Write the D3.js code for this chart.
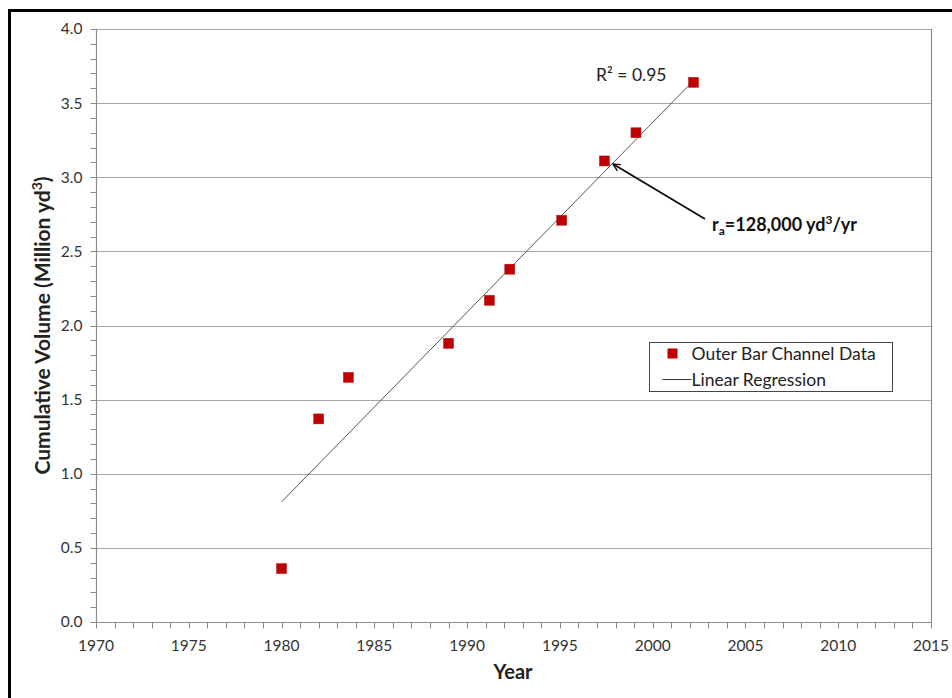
<!DOCTYPE html>
<html>
<head>
<meta charset="utf-8">
<script src="https://cdn.jsdelivr.net/npm/d3@7"></script>
<style>
  html, body { margin: 0; padding: 0; background: #fff; }
  svg { display: block; font-family: Lato, "Open Sans", sans-serif; }
</style>
</head>
<body>
<svg id="chart" width="952" height="698"></svg>
<script>
// Outer Bar Channel cumulative volume, million cubic yards
const years   = [1980, 1982, 1983.6, 1989, 1991.2, 1992.3, 1995.1, 1997.4, 1999.1, 2002.2];
const volumes = [0.36, 1.37, 1.65, 1.88, 2.17, 2.38, 2.71, 3.11, 3.30, 3.64];

// Linear regression: accumulation rate 128,000 yd3/yr = 0.128 million yd3/yr
const regStartYear = 1980;
const regEndYear   = 2002.2;
const regStartValue = 0.81;
const regSlope     = 0.128;

const xTicks = [1970, 1975, 1980, 1985, 1990, 1995, 2000, 2005, 2010, 2015];
const yTicks = [0.0, 0.5, 1.0, 1.5, 2.0, 2.5, 3.0, 3.5, 4.0];

const svg = d3.select("#chart");
const m = { left: 96, right: 931, top: 29, bottom: 622 };

const x = d3.scaleLinear().domain([1970, 2015]).range([m.left, m.right]);
const y = d3.scaleLinear().domain([0, 4]).range([m.bottom, m.top]);

// frame around the figure (top and left edges)
svg.append("path")
  .attr("d", "M9.5,698 L9.5,10.5 L952,10.5")
  .attr("fill", "none").attr("stroke", "#000").attr("stroke-width", 3);

// horizontal gridlines
svg.append("g").selectAll("line").data(yTicks.filter(d => d > 0)).join("line")
  .attr("x1", m.left).attr("x2", m.right)
  .attr("y1", d => Math.round(y(d)) + 0.5).attr("y2", d => Math.round(y(d)) + 0.5)
  .attr("stroke", "#a6a6a6").attr("stroke-width", 1);

// right border of the plot area
svg.append("line")
  .attr("x1", m.right + 0.5).attr("x2", m.right + 0.5)
  .attr("y1", m.top).attr("y2", m.bottom)
  .attr("stroke", "#8c8c8c").attr("stroke-width", 1.2);

// y axis with minor ticks every 0.1
const yMinor = d3.range(0, 41).map(i => i / 10);
const yAxis = svg.append("g").attr("transform", `translate(${m.left + 0.5},0)`);
yAxis.append("line").attr("y1", m.top).attr("y2", m.bottom + 0.5)
  .attr("stroke", "#8c8c8c").attr("stroke-width", 1.2);
yAxis.selectAll("line.tk").data(yMinor).join("line").attr("class", "tk")
  .attr("x1", -6).attr("x2", 0)
  .attr("y1", d => Math.round(y(d)) + 0.5).attr("y2", d => Math.round(y(d)) + 0.5)
  .attr("stroke", "#8c8c8c");
yAxis.selectAll("text").data(yTicks).join("text")
  .attr("x", -14).attr("y", d => y(d)).attr("dy", "0.35em")
  .attr("text-anchor", "end").attr("font-size", 15.5).attr("fill", "#333")
  .text(d => d.toFixed(1));

// x axis with minor ticks every year
const xMinor = d3.range(1970, 2016);
const xAxis = svg.append("g").attr("transform", `translate(0,${m.bottom + 0.5})`);
xAxis.append("line").attr("x1", m.left).attr("x2", m.right + 1)
  .attr("stroke", "#8c8c8c").attr("stroke-width", 1.2);
xAxis.selectAll("line.tk").data(xMinor).join("line").attr("class", "tk")
  .attr("x1", d => Math.round(x(d)) + 0.5).attr("x2", d => Math.round(x(d)) + 0.5)
  .attr("y1", 0).attr("y2", 6)
  .attr("stroke", "#8c8c8c");
xAxis.selectAll("text").data(xTicks).join("text")
  .attr("x", d => x(d)).attr("y", 28)
  .attr("text-anchor", "middle").attr("font-size", 15.5).attr("fill", "#333")
  .text(d => d);

// axis titles
svg.append("text")
  .attr("x", 513).attr("y", 679)
  .attr("text-anchor", "middle").attr("font-size", 20).attr("font-weight", "bold").attr("fill", "#222")
  .text("Year");
const yt = svg.append("text")
  .attr("transform", `translate(50,${(m.top + m.bottom) / 2}) rotate(-90)`)
  .attr("text-anchor", "middle").attr("font-size", 21).attr("font-weight", "bold").attr("fill", "#222");
yt.append("tspan").text("Cumulative Volume (Million yd");
yt.append("tspan").attr("font-size", 14).attr("dy", -8).text("3");
yt.append("tspan").attr("dy", 8).text(")");

// regression line
svg.append("line")
  .attr("x1", x(regStartYear)).attr("y1", y(regStartValue))
  .attr("x2", x(regEndYear)).attr("y2", y(regStartValue + regSlope * (regEndYear - regStartYear)))
  .attr("stroke", "#555").attr("stroke-width", 1);

// data markers
const data = years.map((yr, i) => ({ yr, v: volumes[i] }));
svg.append("g").selectAll("rect").data(data).join("rect")
  .attr("x", d => x(d.yr) - 5).attr("y", d => y(d.v) - 5)
  .attr("width", 10).attr("height", 10)
  .attr("fill", "#c00000").attr("stroke", "#b01818").attr("stroke-width", 0.5);

// R² label
svg.append("text").attr("x", 596).attr("y", 81)
  .attr("font-size", 17.5).attr("fill", "#222").text("R² = 0.95");

// rate annotation with arrow
svg.append("defs").append("marker")
  .attr("id", "arrowhead").attr("viewBox", "0 0 10 10")
  .attr("refX", 9).attr("refY", 5).attr("markerWidth", 9).attr("markerHeight", 9)
  .attr("orient", "auto-start-reverse").attr("markerUnits", "userSpaceOnUse")
  .append("path").attr("d", "M1,1 L9,5 L1,9").attr("fill", "none")
  .attr("stroke", "#111").attr("stroke-width", 1.6);
svg.append("line")
  .attr("x1", 705).attr("y1", 219).attr("x2", 613).attr("y2", 164)
  .attr("stroke", "#111").attr("stroke-width", 2)
  .attr("marker-end", "url(#arrowhead)");
const ra = svg.append("text").attr("x", 712).attr("y", 231)
  .attr("font-size", 18).attr("font-weight", "bold").attr("fill", "#111");
ra.append("tspan").text("r");
ra.append("tspan").attr("font-size", 12).attr("dy", 4).text("a");
ra.append("tspan").attr("dy", -4).text("=128,000 yd");
ra.append("tspan").attr("font-size", 12).attr("dy", -7).text("3");
ra.append("tspan").attr("dy", 7).text("/yr");

// legend
const lg = svg.append("g").attr("transform", "translate(649.5,342.5)");
lg.append("rect").attr("width", 243).attr("height", 49)
  .attr("fill", "#fff").attr("stroke", "#444").attr("stroke-width", 1);
lg.append("rect").attr("x", 18).attr("y", 6).attr("width", 10).attr("height", 10)
  .attr("fill", "#c00000");
lg.append("text").attr("x", 42).attr("y", 17).attr("font-size", 17.5).attr("fill", "#222")
  .text("Outer Bar Channel Data");
lg.append("line").attr("x1", 13).attr("x2", 42).attr("y1", 37).attr("y2", 37)
  .attr("stroke", "#333").attr("stroke-width", 1);
lg.append("text").attr("x", 42).attr("y", 43).attr("font-size", 17.5).attr("fill", "#222")
  .text("Linear Regression");
</script>
</body>
</html>
